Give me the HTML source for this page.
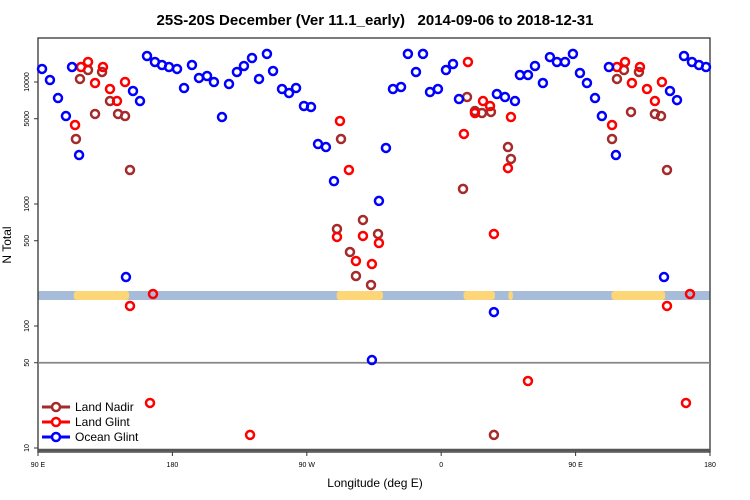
<!DOCTYPE html>
<html><head><meta charset="utf-8"><style>
body{margin:0;background:#fff}
svg{display:block;font-family:"Liberation Sans",sans-serif}
</style></head><body>
<svg id="chart" width="750" height="500" viewBox="0 0 750 500">
<text x="375" y="25" text-anchor="middle" font-size="15" font-weight="bold">25S-20S December (Ver 11.1_early)&#160;&#160;&#160;2014-09-06 to 2018-12-31</text>
<g id="band"></g>
<g id="axes"></g>
<g id="marks"></g>
<text x="0" y="0" transform="translate(11,245) rotate(-90)" text-anchor="middle" font-size="12">N Total</text>
<text x="375" y="487" text-anchor="middle" font-size="12">Longitude (deg E)</text>
<g>
<g><line x1="42" y1="407" x2="70" y2="407" stroke="#a52a2a" stroke-width="3"/><circle cx="56" cy="407" r="4" fill="#fff" stroke="#a52a2a" stroke-width="2.5"/><text x="75" y="411" font-size="12">Land Nadir</text></g>
<g><line x1="42" y1="422" x2="70" y2="422" stroke="#ff0000" stroke-width="3"/><circle cx="56" cy="422" r="4" fill="#fff" stroke="#ff0000" stroke-width="2.5"/><text x="75" y="426" font-size="12">Land Glint</text></g>
<g><line x1="42" y1="437" x2="70" y2="437" stroke="#0000ff" stroke-width="3"/><circle cx="56" cy="437" r="4" fill="#fff" stroke="#0000ff" stroke-width="2.5"/><text x="75" y="441" font-size="12">Ocean Glint</text></g>
</g>
</svg>
<script>
const xTickVals = [90,180,270,360,450,540];
const xTickLabels = ["90 E","180","90 W","0","90 E","180"];
const yTickVals = [10,50,100,500,1000,5000,10000];
const yTickLabels = ["10","50","100","500","1000","5000","10000"];
const landSegStart = [114,290,375,405,474];
const landSegEnd = [151,321,396,408,510];
const oceanLon = [92.7,98,103.4,108.7,112.8,117.5,148.9,153.6,158.3,163,168.3,173,177.7,183.1,187.8,193.1,197.8,203.2,207.8,213.2,217.9,223.2,227.9,233.3,238,243.3,247.4,253.4,258.1,262.8,268.1,272.8,277.5,282.8,288.2,313.6,318.3,323,327.7,333.1,337.7,343.1,347.8,352.5,357.8,363.2,367.9,371.9,395.3,397.3,402.7,409.4,412.7,418.1,422.8,428.1,432.8,437.5,442.9,448.2,452.9,457.6,463,467.6,472.3,477,509.2,513.2,517.9,522.6,527.9,532.6,537.3];
const oceanVal = [12790,10380,7390,5260,13270,2520,252,8440,6980,16330,14590,13780,13270,12790,8930,13780,10790,11200,10000,5160,9630,12080,13530,15730,10590,17000,12310,8760,8120,8930,6360,6240,3100,2930,1540,52.6,1060,2880,8760,9100,17000,12080,17000,8280,8760,12540,14050,7250,130,7970,7530,6980,11410,11410,13530,9810,16000,14590,14590,17000,11850,9810,7390,5260,13270,2520,252,8440,7110,16330,14590,13780,13270];
const lgLon = [114.8,118.8,123.5,128.2,133.5,138.2,142.9,148.3,151.6,167,165,232,292.2,298.2,290.2,307.6,318.3,302.9,313.6,377.9,388,392.7,382.6,375.2,406.7,404.7,395.3,418.1,477.7,483.1,487.7,493.1,497.8,503.1,507.8,474.4,511.2,526.6,523.9];
const lgVal = [4440,13270,14590,9810,13270,8760,6980,10000,146,183,23.4,12.8,4790,1900,537,547,479,341,322,14590,6980,6360,5570,3750,5160,1970,568,35.4,13270,14590,9810,13270,8760,6980,10000,4440,146,183,23.4];
const lnLon = [115.4,118.1,123.5,128.2,132.9,138.2,143.6,148.3,151.6,292.9,290.2,307.6,317.7,298.9,302.9,313,377.3,374.6,382.6,387.3,393.3,404.7,406.7,395.3,477.7,482.4,492.4,487.1,474.4,503.1,507.2,511.2];
const lnVal = [3410,10590,12540,5470,12080,6980,5470,5260,1900,3410,624,740,568,404,257,217,7530,1330,5780,5570,5680,2930,2340,12.8,10590,12540,12080,5680,3410,5470,5260,1900];

const NS="http://www.w3.org/2000/svg";
const X0=38,X1=710,Y0=38,Y1=452;
function xs(l){return X0+(l-90)*(X1-X0)/450;}
function ys(v){return 204-(Math.log10(v)-3)*122;}
function mk(tag,attrs,parent){const e=document.createElementNS(NS,tag);for(const k in attrs)e.setAttribute(k,attrs[k]);parent.appendChild(e);return e;}
const band=document.getElementById('band');
const bg=mk('rect',{x:X0,y:291,width:X1-X0,height:9,fill:'#a7bcd9'},band);


for(let i=0;i<landSegStart.length;i++){
  const r=mk('rect',{x:xs(landSegStart[i]),y:291,width:xs(landSegEnd[i])-xs(landSegStart[i]),height:9,fill:'#fdd677',rx:3},band);
  
  
}
const axes=document.getElementById('axes');
mk('rect',{x:X0,y:Y0,width:X1-X0,height:Y1-Y0,fill:'none',stroke:'#333','stroke-width':1.3},axes);
mk('line',{x1:X0,y1:Y1-2,x2:X1,y2:Y1-2,stroke:'#555','stroke-width':2.5},axes);
const ref=mk('line',{x1:X0,y1:ys(50),x2:X1,y2:ys(50),stroke:'#888','stroke-width':1.8},axes);


xTickVals.forEach((v,i)=>{
  mk('line',{x1:xs(v),y1:Y1,x2:xs(v),y2:Y1+4,stroke:'#333'},axes);
  const t=mk('text',{x:xs(v),y:Y1+15,'text-anchor':'middle','font-size':7},axes);
  t.textContent=xTickLabels[i];
  
  
});
yTickVals.forEach((v,i)=>{
  mk('line',{x1:X0-4,y1:ys(v),x2:X0,y2:ys(v),stroke:'#333'},axes);
  const t=mk('text',{x:0,y:0,transform:`translate(29,${ys(v)}) rotate(-90)`,'text-anchor':'middle','font-size':7},axes);
  t.textContent=yTickLabels[i];
  
  
});
const marks=document.getElementById('marks');
function series(lon,val,col,name){
  const g=mk('g',{},marks);
  
  
  lon.forEach((l,i)=>{
    const c=mk('circle',{cx:xs(l),cy:ys(val[i]),r:4,fill:'none',stroke:col,'stroke-width':2.5},g);
    
    
  });
}
series(lnLon,lnVal,'#a52a2a','land-nadir');
series(lgLon,lgVal,'#ff0000','land-glint');
series(oceanLon,oceanVal,'#0000ff','ocean-glint');
</script>
</body></html>
